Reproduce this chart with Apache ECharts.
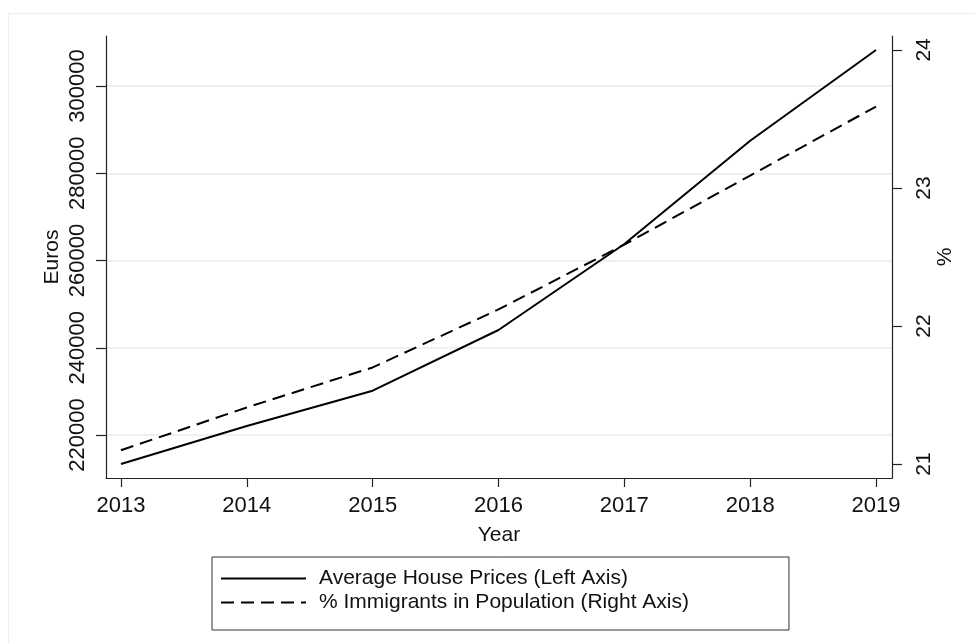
<!DOCTYPE html>
<html>
<head>
<meta charset="utf-8">
<script src="https://cdn.jsdelivr.net/npm/echarts@6/dist/echarts.min.js"></script>
<style>
html,body{margin:0;padding:0;background:#fff;}
#chart{width:975px;height:643px;}
</style>
</head>
<body>
<div id="chart"></div>
<script>
// ---- data ----
const years = [2013, 2014, 2015, 2016, 2017, 2018, 2019];
const housePrices = [213350, 222060, 230150, 244070, 263780, 287460, 308250];
const immigrantShare = [21.10, 21.41, 21.70, 22.12, 22.59, 23.09, 23.59];
const leftTicks = [220000, 240000, 260000, 280000, 300000];
const rightTicks = [21, 22, 23, 24];
const seriesNames = ['Average House Prices (Left Axis)', '% Immigrants in Population (Right Axis)'];

const FONT = 'Liberation Sans, Arial, sans-serif';
const chart = echarts.init(document.getElementById('chart'), null, {renderer: 'canvas'});

const axisLineStyle = {color: '#222', width: 1.2};

chart.setOption({
  backgroundColor: '#ffffff',
  animation: false,
  textStyle: {fontFamily: FONT},
  graphic: [{
    type: 'rect',
    shape: {x: 8.5, y: 13.5, width: 1000, height: 700},
    style: {fill: 'none', stroke: '#eceeee', lineWidth: 1},
    silent: true, z: -10
  }],
  grid: {left: 106, right: 83, top: 36, bottom: 165, containLabel: false},
  xAxis: {
    type: 'value',
    min: 2012.881, max: 2019.127,
    name: 'Year', nameLocation: 'middle', nameGap: 47,
    nameTextStyle: {fontFamily: FONT, fontSize: 21, color: '#111'},
    axisLine: {show: true, lineStyle: axisLineStyle},
    axisTick: {show: true, length: 9, lineStyle: axisLineStyle, customValues: years},
    axisLabel: {customValues: years, fontFamily: FONT, fontSize: 22, color: '#111', margin: 17,
                formatter: v => String(Math.round(v))},
    splitLine: {show: false}
  },
  yAxis: [{
    type: 'value',
    position: 'left',
    min: 210140, max: 311470,
    name: 'Euros', nameLocation: 'middle', nameGap: 43, nameRotate: 90, nameMoveOverlap: false,
    nameTextStyle: {fontFamily: FONT, fontSize: 21, color: '#111'},
    axisLine: {show: true, lineStyle: axisLineStyle},
    axisTick: {show: true, length: 10, lineStyle: axisLineStyle, customValues: leftTicks},
    axisLabel: {customValues: leftTicks, rotate: 90, fontFamily: FONT, fontSize: 22, color: '#111', margin: 17,
                formatter: v => String(v)},
    splitLine: {show: true, lineStyle: {color: '#e9f1f3', width: 2}}
  }, {
    type: 'value',
    position: 'right',
    min: 20.899, max: 24.101,
    name: '%', nameLocation: 'middle', nameGap: 43, nameRotate: 90, nameMoveOverlap: false,
    nameTextStyle: {fontFamily: FONT, fontSize: 21, color: '#111'},
    axisLine: {show: true, lineStyle: axisLineStyle},
    axisTick: {show: true, length: 10, lineStyle: axisLineStyle, customValues: rightTicks},
    axisLabel: {customValues: rightTicks, rotate: 90, fontFamily: FONT, fontSize: 21, color: '#111', margin: 22,
                formatter: v => String(v)},
    splitLine: {show: false}
  }],
  legend: {
    orient: 'vertical',
    left: 212, top: 557,
    padding: [11, 100, 17, 8],
    itemWidth: 85, itemHeight: 20, itemGap: 3,
    borderColor: '#333', borderWidth: 1,
    itemStyle: {opacity: 0},
    textStyle: {fontFamily: FONT, fontSize: 21, color: '#111', padding: [0, 0, 0, 8]},
    data: seriesNames
  },
  series: [{
    name: seriesNames[0],
    type: 'line',
    yAxisIndex: 0,
    data: years.map((y, i) => [y, housePrices[i]]),
    symbol: 'none', showSymbol: false,
    lineStyle: {color: '#000', width: 2},
    itemStyle: {color: '#000'}
  }, {
    name: seriesNames[1],
    type: 'line',
    yAxisIndex: 1,
    data: years.map((y, i) => [y, immigrantShare[i]]),
    symbol: 'none', showSymbol: false,
    lineStyle: {color: '#000', width: 2, type: [13, 7]},
    itemStyle: {color: '#000'}
  }]
});
</script>
</body>
</html>
